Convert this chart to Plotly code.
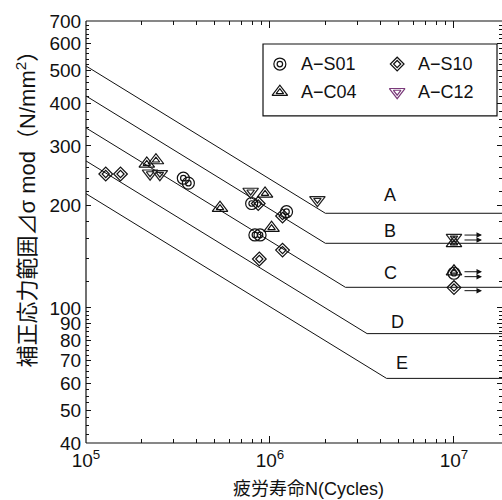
import math
import plotly.graph_objects as go

# ---------------- data ----------------
# design S-N curves (vertices)
curve_names = ["A", "B", "C", "D", "E"]
curve_N = [[1e5, 2.0e6, 2e7], [1e5, 2.0e6, 2e7], [1e5, 2.57e6, 2e7],
           [1e5, 3.37e6, 2e7], [1e5, 4.3e6, 2e7]]
curve_S = [[516, 190, 190], [421, 155, 155], [339, 115, 115],
           [271, 84, 84], [217, 62, 62]]
label_N = [4.49e6, 4.49e6, 4.49e6, 4.92e6, 5.25e6]
label_S = [215, 168.5, 126.4, 90.7, 68.7]

# test results
s01_N = [3.38e5, 3.6e5, 7.95e5, 1.23e6, 8.28e5, 8.83e5, 1e7]
s01_S = [241, 233, 203, 192, 164, 164, 126.5]
s10_N = [1.28e5, 1.54e5, 8.63e5, 1.17e6, 1.17e6, 8.75e5, 1e7]
s10_S = [248, 248, 203, 186.5, 148, 139.3, 114.8]
c04_N = [2.14e5, 2.4e5, 5.35e5, 9.4e5, 1.02e6, 1e7, 1e7]
c04_S = [266, 272, 197, 217, 172, 155, 128]
c12_N = [2.23e5, 2.52e5, 7.85e5, 1.81e6, 1e7]
c12_S = [249, 248, 220, 208, 161]

# run-out arrows (head N, stress)
arrow_N = [1.42e7, 1.42e7, 1.42e7, 1.42e7, 1.42e7]
arrow_S = [163.9, 158.5, 127.8, 123.6, 112.4]

series_names = ["A−S01", "A−S10", "A−C04", "A−C12"]

# axis ticks
y_major = [40, 50, 60, 70, 80, 90, 100, 200, 300, 400, 500, 600, 700]
y_minor = [40 + 2.5 * i for i in range(25)] + [100 + 20 * i for i in range(31)]
x_major = [1e5, 1e6, 1e7]
x_major_text = ["10<sup>5</sup>", "10<sup>6</sup>", "10<sup>7</sup>"]
x_minor = [m * d for d in (1e5, 1e6, 1e7) for m in range(2, 10)]

FONT = "Liberation Sans, Arial, Noto Sans CJK JP"
INK = "#111"
fig = go.Figure()

for n, s in zip(curve_N, curve_S):
    fig.add_trace(go.Scatter(x=n, y=s, mode="lines", showlegend=False,
                             line=dict(color=INK, width=1), hoverinfo="skip"))


def add_double(N, S, sym, color, outer, inner, name, xa="x", ya="y"):
    fig.add_trace(go.Scatter(x=N, y=S, mode="markers", name=name, showlegend=False,
                             xaxis=xa, yaxis=ya,
                             marker=dict(symbol=sym + "-open", size=outer,
                                         color=color, line=dict(width=1.2, color=color))))
    fig.add_trace(go.Scatter(x=N, y=S, mode="markers", showlegend=False, hoverinfo="skip",
                             xaxis=xa, yaxis=ya,
                             marker=dict(symbol=sym + "-open", size=inner,
                                         color=color, line=dict(width=1.2, color=color))))


add_double(s01_N, s01_S, "circle", INK, 12, 5.5, series_names[0])
add_double(s10_N, s10_S, "diamond", INK, 10.5, 5.5, series_names[1])
add_double(c04_N, c04_S, "triangle-up", INK, 13.5, 6.5, series_names[2])
add_double(c12_N, c12_S, "triangle-down", "#222", 13.5, 6.5, series_names[3])

# manual legend on overlay axes (fractions of plot area)
leg_x = [0.466, 0.748, 0.466, 0.748]
leg_y = [0.898, 0.898, 0.832, 0.832]
leg_sym = ["circle", "diamond", "triangle-up", "triangle-down"]
leg_col = [INK, INK, INK, "#7a3a7a"]
leg_size = [(12, 5.5), (10.5, 5.5), (13.5, 6.5), (13.5, 6.5)]
for i in range(4):
    add_double([leg_x[i]], [leg_y[i]], leg_sym[i], leg_col[i],
               leg_size[i][0], leg_size[i][1], series_names[i], "x2", "y2")
    fig.add_annotation(x=leg_x[i] + 0.045, y=leg_y[i], xref="x2", yref="y2",
                       text=series_names[i], showarrow=False, xanchor="left",
                       font=dict(size=18, color=INK, family=FONT))
fig.add_shape(type="rect", xref="paper", yref="paper", x0=0.4255, x1=0.988,
              y0=0.775, y1=0.9455, line=dict(color=INK, width=1.2))

# curve labels
for name, n, s in zip(curve_names, label_N, label_S):
    fig.add_annotation(x=math.log10(n), y=math.log10(s), text=name, showarrow=False,
                       font=dict(size=18, color=INK, family=FONT))

# run-out arrows
for n, s in zip(arrow_N, arrow_S):
    fig.add_annotation(x=math.log10(n), y=math.log10(s), ax=-19, ay=0,
                       axref="pixel", ayref="pixel", text="", showarrow=True,
                       arrowhead=2, arrowsize=1.1, arrowwidth=1, arrowcolor=INK)

# frame: left, bottom and top lines (right edge falls outside the picture)
for x0, x1, y0, y1 in [(0, 0, 0, 1), (0, 1, 0, 0), (0, 1, 1, 1)]:
    fig.add_shape(type="line", xref="paper", yref="paper", x0=x0, x1=x1, y0=y0, y1=y1,
                  line=dict(color=INK, width=1.2))

# long tick at 100
fig.add_shape(type="line", xref="paper", yref="y", x0=0, x1=0.022,
              y0=math.log10(100), y1=math.log10(100), line=dict(color=INK, width=1))

# axis titles
fig.add_annotation(xref="paper", yref="paper", x=-0.144, y=0.568, textangle=-90,
                   xanchor="center", yanchor="middle",
                   text="補正応力範囲⊿σ mod（N/mm<sup>2</sup>）", showarrow=False,
                   font=dict(size=22, color=INK, family=FONT))
fig.add_annotation(xref="paper", yref="paper", x=0.535, y=-0.11,
                   xanchor="center", yanchor="middle",
                   text="疲労寿命N(Cycles)", showarrow=False,
                   font=dict(size=18, color=INK, family=FONT))

fig.update_layout(
    width=502, height=500,
    margin=dict(l=86, r=0, t=21, b=57),
    plot_bgcolor="white", paper_bgcolor="white",
    showlegend=False,
    font=dict(family=FONT, size=19, color=INK),
    xaxis=dict(type="log", range=[5, 7.261], showgrid=False, zeroline=False,
               showline=True, linecolor="rgba(0,0,0,0)", linewidth=1, mirror="allticks",
               ticks="inside", ticklen=7, tickcolor=INK,
               tickmode="array", tickvals=x_major, ticktext=x_major_text,
               minor=dict(tickmode="array", tickvals=x_minor, ticks="inside",
                          ticklen=4, tickcolor=INK, showgrid=False),
               tickfont=dict(size=19)),
    yaxis=dict(type="log", range=[math.log10(40), math.log10(700)], showgrid=False,
               zeroline=False, showline=True, linecolor="rgba(0,0,0,0)", linewidth=1,
               mirror="allticks", ticks="inside", ticklen=5, tickcolor=INK,
               tickmode="array", tickvals=y_major, ticktext=[str(v) for v in y_major],
               minor=dict(tickmode="array", tickvals=y_minor, ticks="inside",
                          ticklen=3, tickcolor=INK, showgrid=False),
               tickfont=dict(size=19)),
    xaxis2=dict(overlaying="x", range=[0, 1], visible=False, anchor="y2"),
    yaxis2=dict(overlaying="y", range=[0, 1], visible=False, anchor="x2"),
)

fig.write_html("out.html")
